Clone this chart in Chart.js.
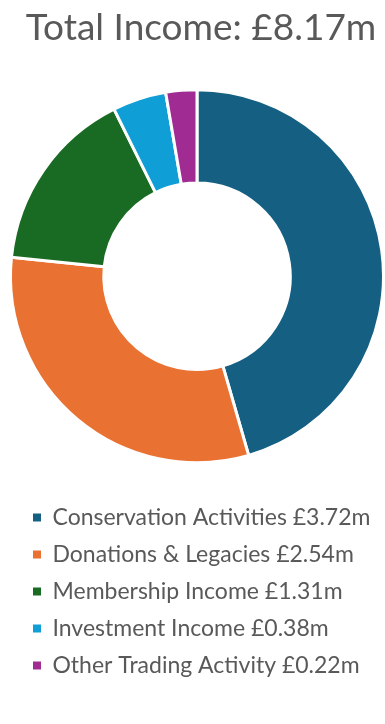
<!DOCTYPE html>
<html>
<head>
<meta charset="utf-8">
<script src="https://cdn.jsdelivr.net/npm/chart.js@4.4.1/dist/chart.umd.min.js"></script>
<style>
  html, body { margin: 0; padding: 0; background: #ffffff; }
  #wrap { width: 385px; height: 724px; position: relative; }
</style>
</head>
<body>
<div id="wrap"><canvas id="c"></canvas></div>
<script>
const categories = ["Conservation Activities", "Donations & Legacies", "Membership Income", "Investment Income", "Other Trading Activity"];
const values = [3.72, 2.54, 1.31, 0.38, 0.22];
const colors = ["#156082", "#E97132", "#196B24", "#0F9ED5", "#A02B93"];
const titleText = "Total Income: £8.17m";

const FONT = "Lato, 'Open Sans', sans-serif";
const TEXT = "#595959";

const shiftBoxes = {
  id: 'shiftBoxes',
  afterLayout(chart) {
    if (chart.legend) { chart.legend.left += 10; }
    if (chart.titleBlock) { chart.titleBlock.left += 4; chart.titleBlock.right += 4; }
  }
};

new Chart(document.getElementById('c'), {
  type: 'doughnut',
  data: {
    labels: categories,
    datasets: [{
      data: values,
      backgroundColor: colors,
      borderColor: '#ffffff',
      borderWidth: 3
    }]
  },
  options: {
    responsive: true,
    maintainAspectRatio: false,
    animation: false,
    cutout: '50%',
    events: [],
    layout: { padding: { left: 9, right: 0, top: 0, bottom: 37 } },
    plugins: {
      tooltip: { enabled: false },
      title: {
        display: true,
        text: titleText,
        color: TEXT,
        font: { family: FONT, size: 37, weight: 'normal' },
        padding: { top: 6, bottom: 10 }
      },
      legend: {
        display: true,
        position: 'bottom',
        align: 'start',
        labels: {
          color: TEXT,
          font: { family: FONT, size: 23 },
          boxWidth: 8,
          boxHeight: 8,
          padding: 14,
          generateLabels(chart) {
            return categories.map((c, i) => ({
              text: c + ' £' + values[i].toFixed(2) + 'm',
              fillStyle: colors[i],
              strokeStyle: colors[i],
              lineWidth: 0,
              fontColor: TEXT,
              hidden: false,
              index: i
            }));
          }
        }
      }
    }
  },
  plugins: [shiftBoxes]
});
</script>
</body>
</html>
